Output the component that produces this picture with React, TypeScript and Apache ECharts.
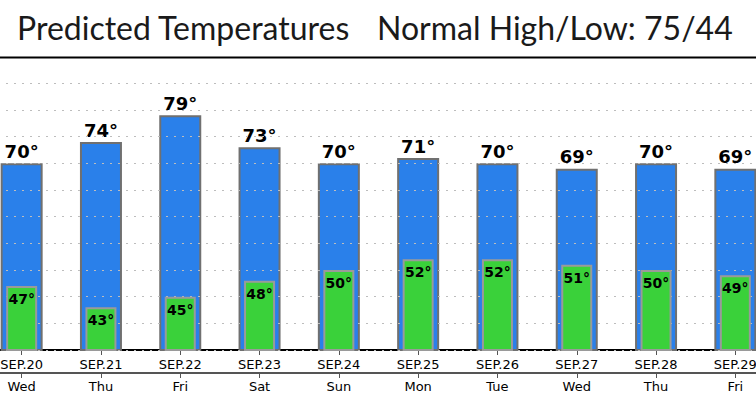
import React, { useEffect, useRef } from "react";
import * as echarts from "echarts";

const dates = ["SEP.20", "SEP.21", "SEP.22", "SEP.23", "SEP.24", "SEP.25", "SEP.26", "SEP.27", "SEP.28", "SEP.29"];
const days = ["Wed", "Thu", "Fri", "Sat", "Sun", "Mon", "Tue", "Wed", "Thu", "Fri"];
const highs = [70, 74, 79, 73, 70, 71, 70, 69, 70, 69];
const lows = [47, 43, 45, 48, 50, 52, 52, 51, 50, 49];
const titleLeft = "Predicted Temperatures";
const titleRight = "Normal High/Low: 75/44";

const SHIFT = 18;

export default function App() {
  const ref = useRef<HTMLDivElement>(null);
  useEffect(() => {
    document.body.style.margin = "0";
    document.body.style.overflow = "hidden";
    const chart = echarts.init(ref.current!, null, { renderer: "svg" });
    const titleFont = "Lato, 'Noto Sans', sans-serif";
    chart.setOption({
      animation: false,
      backgroundColor: "#ffffff",
      graphic: [
        { type: "text", x: 17 + SHIFT, y: 11, style: { text: titleLeft, font: `32px ${titleFont}`, fill: "#1a1a1a" } },
        { type: "text", x: 377 + SHIFT, y: 11, style: { text: titleRight, font: `32px ${titleFont}`, fill: "#1a1a1a" } },
        { type: "line", shape: { x1: 0, y1: 57.5, x2: 800, y2: 57.5 }, style: { stroke: "#000", lineWidth: 2 } },
      ],
      grid: { left: 0, right: 0, top: 56.7, bottom: 45, containLabel: false },
      xAxis: [
        {
          type: "category",
          data: dates,
          position: "bottom",
          axisLine: { lineStyle: { color: "#000", width: 2 } },
          axisTick: { show: true, alignWithLabel: true, length: 5, lineStyle: { color: "#555" } },
          axisLabel: { interval: 0, fontFamily: "DejaVu Sans", fontSize: 13, color: "#000", margin: 8 },
        },
        {
          type: "category",
          data: days,
          position: "bottom",
          offset: 23,
          axisLine: { lineStyle: { color: "#555", width: 2 } },
          axisTick: { show: true, alignWithLabel: true, length: 5, lineStyle: { color: "#555" } },
          axisLabel: { interval: 0, fontFamily: "DejaVu Sans", fontSize: 13, color: "#000", margin: 7 },
        },
      ],
      yAxis: {
        type: "value",
        min: 35,
        max: 90,
        interval: 5,
        z: 3,
        axisLabel: { show: false },
        axisLine: { show: false },
        axisTick: { show: false },
        splitLine: { show: true, showMaxLine: false, lineStyle: { type: [2, 6], color: "#bdbdbd", width: 1 } },
      },
      series: [
        {
          type: "bar",
          xAxisIndex: 0,
          data: highs,
          barWidth: 42,
          z: 2,
          itemStyle: { color: "#2a80ea", borderColor: "#707070", borderWidth: 2 },
          label: {
            show: true,
            position: "top",
            distance: 3,
            formatter: "{c}°",
            fontFamily: "DejaVu Sans",
            fontWeight: "bold",
            fontSize: 18,
            color: "#000",
          },
        },
        {
          type: "bar",
          xAxisIndex: 1,
          data: lows,
          barWidth: 31,
          z: 4,
          itemStyle: { color: "#3ad13a", borderColor: "#9a9a9a", borderWidth: 2 },
          label: {
            show: true,
            position: "insideTop",
            distance: 6,
            formatter: "{c}°",
            fontFamily: "DejaVu Sans",
            fontWeight: "bold",
            fontSize: 14,
            color: "#000",
          },
        },
      ],
    });
    return () => chart.dispose();
  }, []);
  return (
    <div style={{ width: 756, height: 395, overflow: "hidden", position: "relative" }}>
      <div ref={ref} style={{ width: 793, height: 395, marginLeft: -SHIFT }} />
    </div>
  );
}
